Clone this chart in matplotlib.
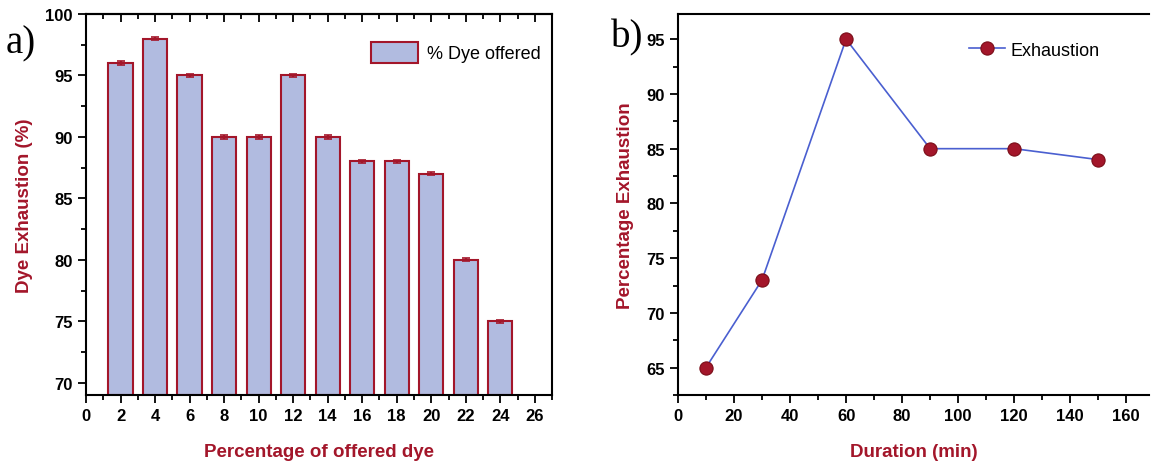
import matplotlib
matplotlib.use("Agg")
import matplotlib.pyplot as plt
from matplotlib.ticker import MultipleLocator

# panel a data
dye_offered = [2, 4, 6, 8, 10, 12, 14, 16, 18, 20, 22, 24]
dye_exhaustion = [96, 98, 95, 90, 90, 95, 90, 88, 88, 87, 80, 75]
dye_err = [0.15, 0.15, 0.15, 0.15, 0.15, 0.15, 0.15, 0.12, 0.12, 0.12, 0.12, 0.12]

# panel b data
duration = [10, 30, 60, 90, 120, 150]
exhaustion = [65, 73, 95, 85, 85, 84]

red = "#a3162a"
fill = "#b1bbe0"
blue = "#4a5fd0"

plt.rcParams['font.family'] = ['Liberation Sans', 'DejaVu Sans']

fig = plt.figure(figsize=(11.51, 4.64), dpi=100)

# ---- a)
ax1 = fig.add_axes([0.0747, 0.1466, 0.405, 0.821])
ax1.bar(dye_offered, [v - 69 for v in dye_exhaustion], bottom=69, width=1.4,
        color=fill, edgecolor=red, linewidth=1.5, label="% Dye offered", zorder=2)
ax1.errorbar(dye_offered, dye_exhaustion, yerr=dye_err, fmt="none", ecolor=red,
             elinewidth=1.5, capsize=3, capthick=1.2, zorder=3)
ax1.set_xlim(0, 27)
ax1.set_ylim(69, 100)
ax1.xaxis.set_major_locator(MultipleLocator(2))
ax1.xaxis.set_minor_locator(MultipleLocator(1))
ax1.yaxis.set_major_locator(MultipleLocator(5))
ax1.yaxis.set_minor_locator(MultipleLocator(2.5))
ax1.tick_params(which="both", direction="out", labelsize=12, width=1.3)
ax1.tick_params(which="major", length=6)
ax1.tick_params(which="minor", length=3.5)
# mirrored ticks on top, pointing inward
sx = ax1.secondary_xaxis("top")
sx.xaxis.set_major_locator(MultipleLocator(2))
sx.xaxis.set_minor_locator(MultipleLocator(1))
sx.tick_params(which="both", direction="in", labeltop=False, width=1.3)
sx.tick_params(which="major", length=6)
sx.tick_params(which="minor", length=3.5)
sx.spines["top"].set_linewidth(1.5)
for lab in ax1.get_xticklabels() + ax1.get_yticklabels():
    lab.set_fontweight("bold")
for s in ax1.spines.values():
    s.set_linewidth(1.5)
ax1.set_xlabel("Percentage of offered dye", color=red, fontsize=13.5,
               fontweight="bold", labelpad=14)
ax1.set_ylabel("Dye Exhaustion (%)", color=red, fontsize=13.5,
               fontweight="bold", labelpad=9)
ax1.legend(loc="upper right", frameon=False, fontsize=13, handlelength=2.6,
           handleheight=1.4, handletextpad=0.5, bbox_to_anchor=(1.01, 0.97))
fig.text(0.005, 0.905, "a)", fontsize=28, family="Liberation Serif", va="center")

# ---- b)
ax2 = fig.add_axes([0.589, 0.1466, 0.409, 0.821])
ax2.plot(duration, exhaustion, color=blue, linewidth=1.2, marker="o",
         markersize=9.5, markerfacecolor=red, markeredgecolor="#7a0d18",
         markeredgewidth=0.8, label="Exhaustion", zorder=3)
ax2.set_xlim(0, 168)
ax2.set_ylim(62.5, 97.3)
ax2.xaxis.set_major_locator(MultipleLocator(20))
ax2.xaxis.set_minor_locator(MultipleLocator(10))
ax2.yaxis.set_major_locator(MultipleLocator(5))
ax2.yaxis.set_minor_locator(MultipleLocator(2.5))
ax2.tick_params(which="both", direction="out", labelsize=12, width=1.3)
ax2.tick_params(which="major", length=6)
ax2.tick_params(which="minor", length=3.5)
for lab in ax2.get_xticklabels() + ax2.get_yticklabels():
    lab.set_fontweight("bold")
for s in ax2.spines.values():
    s.set_linewidth(1.5)
ax2.spines["right"].set_visible(False)
ax2.set_xlabel("Duration (min)", color=red, fontsize=13.5, fontweight="bold",
               labelpad=14)
ax2.set_ylabel("Percentage Exhaustion", color=red, fontsize=13.5,
               fontweight="bold", labelpad=9)
ax2.legend(loc="upper right", frameon=False, fontsize=13, handlelength=2.0,
           handletextpad=0.3, bbox_to_anchor=(0.93, 0.97))
fig.text(0.531, 0.918, "b)", fontsize=28, family="Liberation Serif", va="center")

fig.savefig("out.png", dpi=100)
